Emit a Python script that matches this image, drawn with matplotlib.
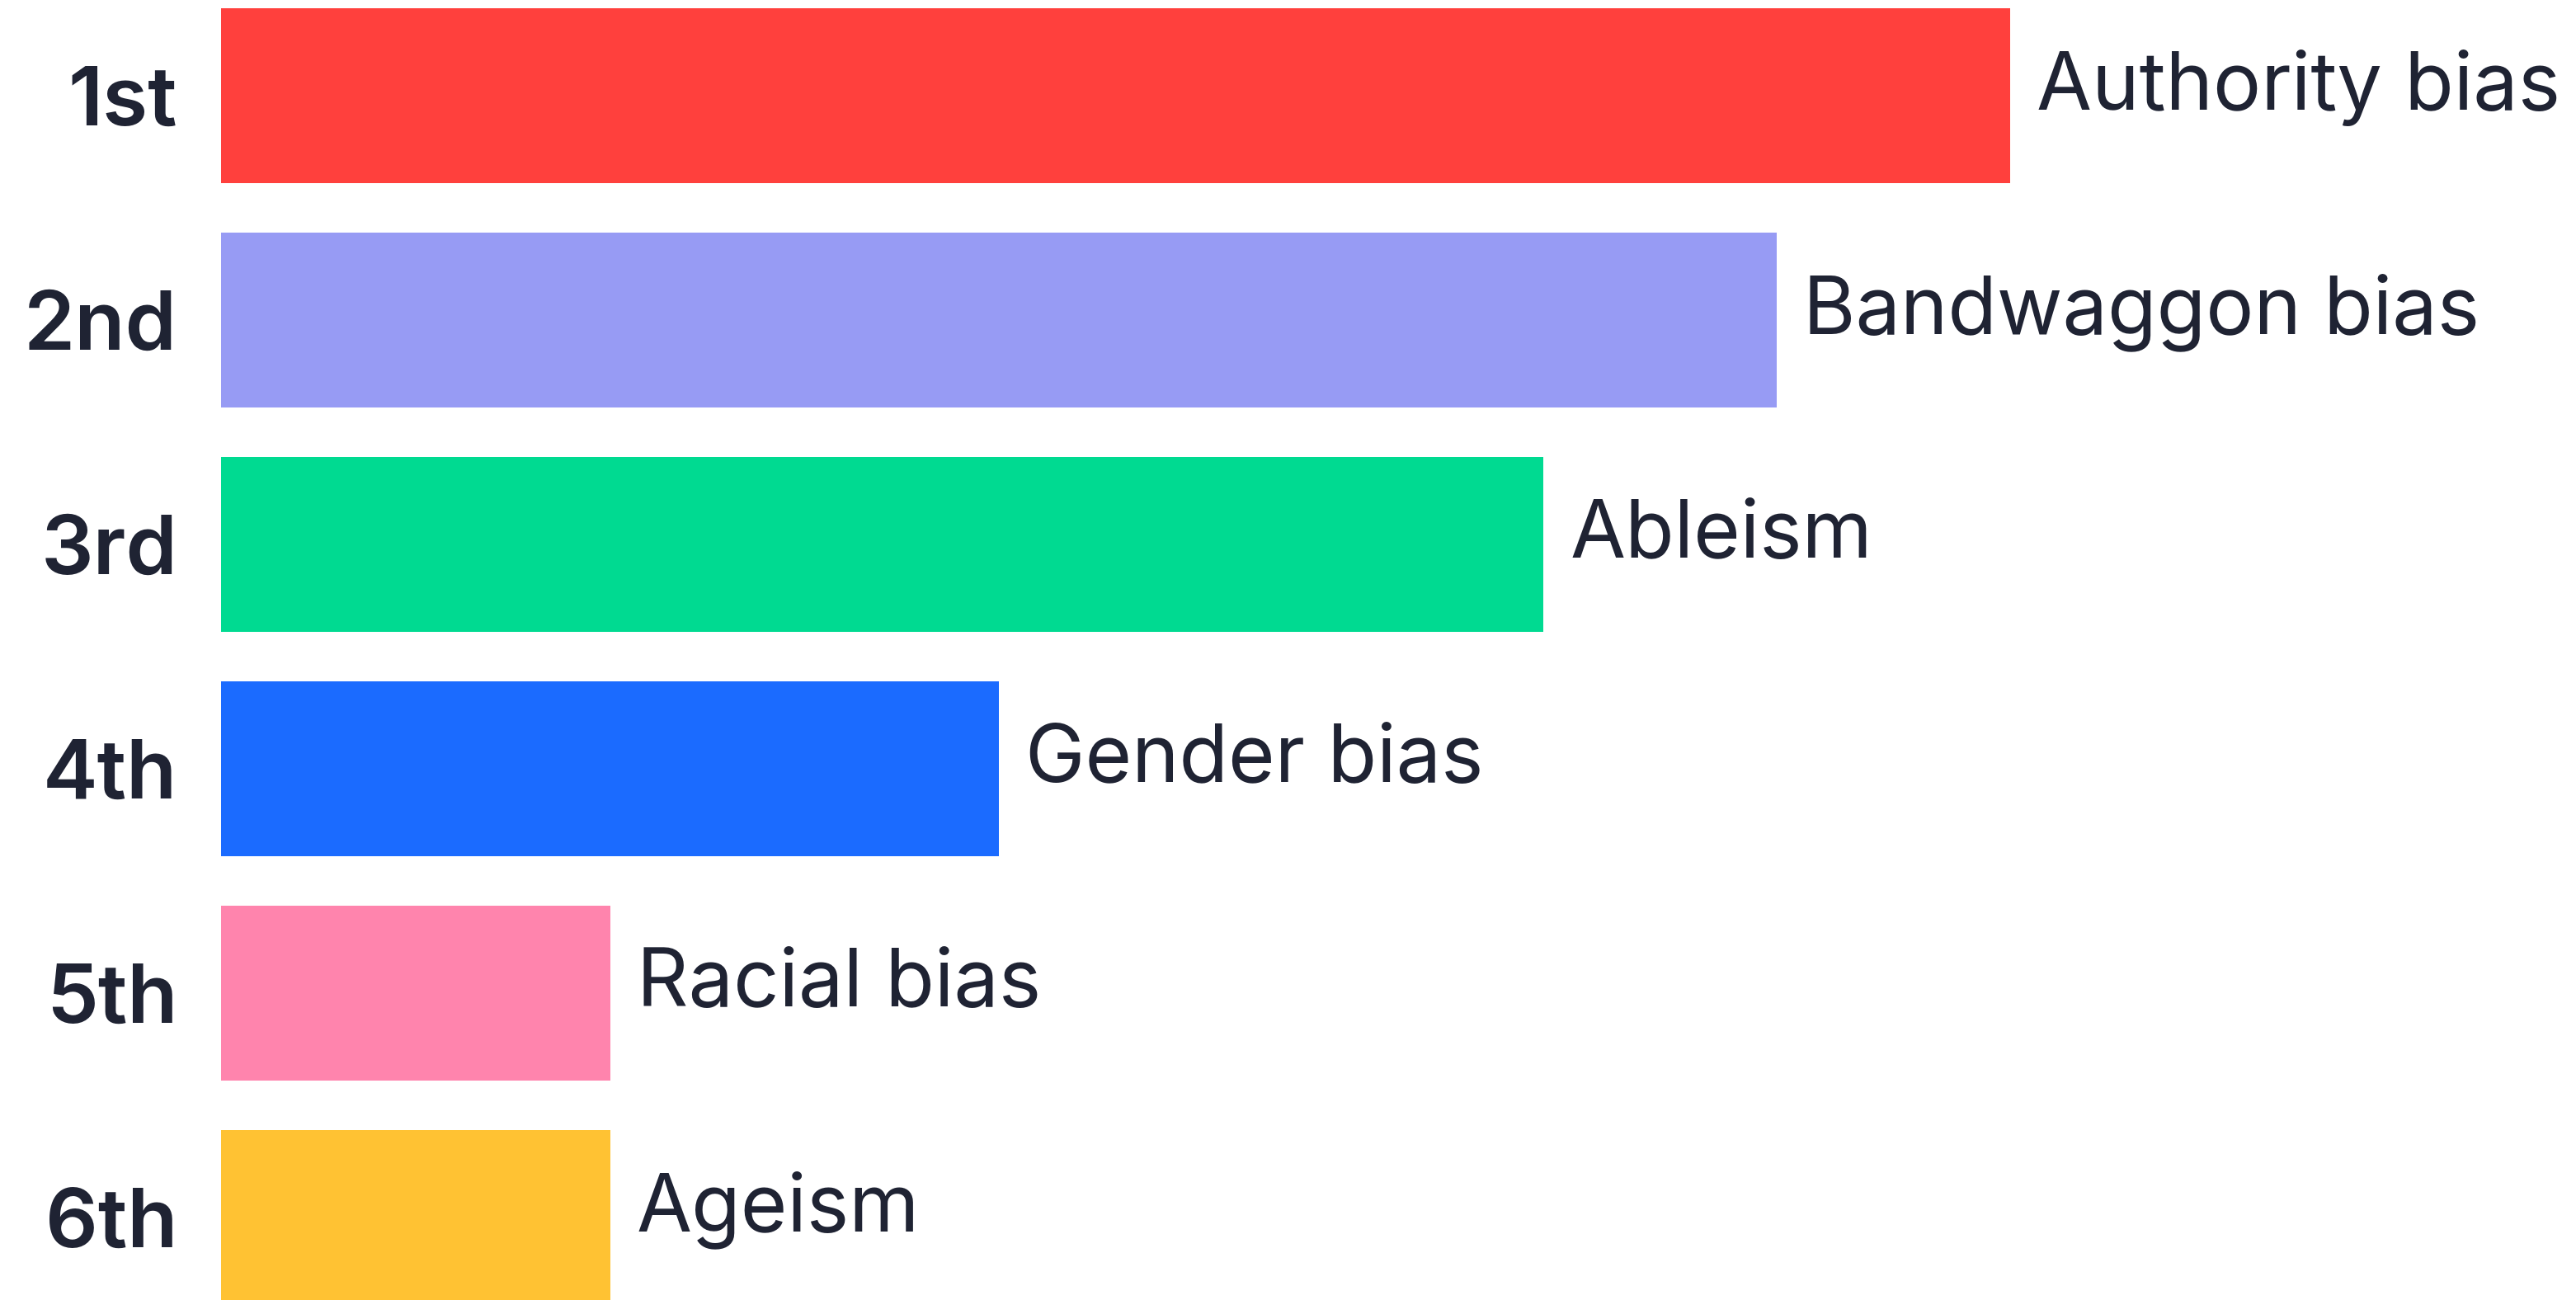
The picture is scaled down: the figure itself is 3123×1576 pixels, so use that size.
import matplotlib.pyplot as plt

ranks = ["1st", "2nd", "3rd", "4th", "5th", "6th"]
biases = ["Authority bias", "Bandwaggon bias", "Ableism", "Gender bias", "Racial bias", "Ageism"]
scores = [23, 20, 17, 10, 5, 5]
colors = ["#FF403D", "#979BF4", "#00DA91", "#1B6BFF", "#FF84AD", "#FFC233"]

text_color = "#1F2333"

fig = plt.figure(figsize=(31.23, 15.76), dpi=100)
# axes start where the bars start, run to the right edge
ax = fig.add_axes([268 / 3123, 0, 1 - 268 / 3123, 1])

y = list(range(len(ranks)))
ax.barh(y, scores, height=0.78, color=colors)

ax.set_xlim(0, 30.27)
ax.set_ylim(5.368, -0.426)

ax.set_yticks(y)
ax.set_yticklabels(ranks, fontsize=72, fontweight="semibold", color=text_color, family="Inter")
ax.tick_params(axis="y", length=0, pad=38)
ax.set_xticks([])

for yi, val, name in zip(y, scores, biases):
    ax.annotate(name, xy=(val, yi), xytext=(23, 7), textcoords="offset points",
                ha="left", va="center", fontsize=70, color=text_color, family="Inter")

for s in ax.spines.values():
    s.set_visible(False)

fig.savefig("out.png", dpi=100)
